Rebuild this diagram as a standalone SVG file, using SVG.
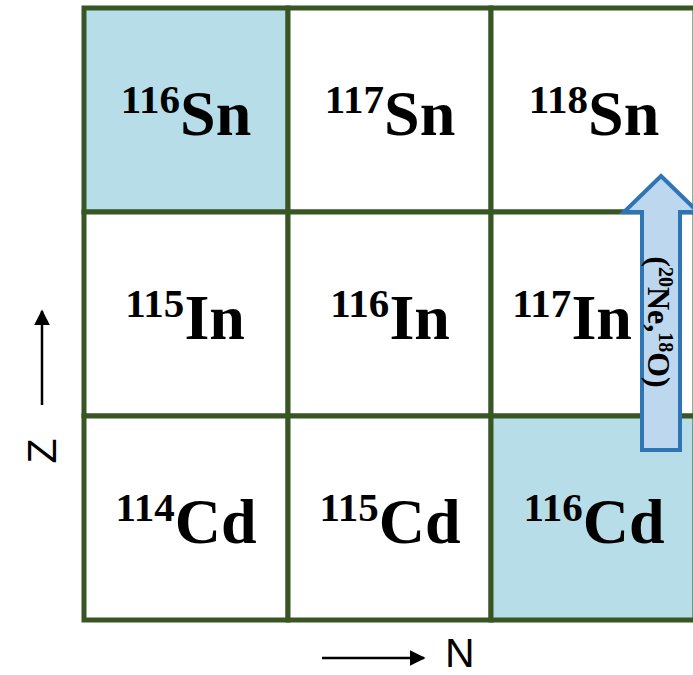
<svg xmlns="http://www.w3.org/2000/svg" width="693" height="675" viewBox="0 0 693 675">
<style>
.cell{stroke:#375623;stroke-width:5;fill:#ffffff}
.hl{fill:#b7dee8}
.nuc{font-family:"Liberation Serif","Times New Roman",serif;font-weight:700;font-size:64px;fill:#000;text-anchor:middle}
.sup{font-family:"Liberation Serif","Times New Roman",serif;font-weight:700;font-size:41px}
.ax{font-family:"Liberation Sans",Arial,sans-serif;font-size:41px;fill:#000}
.rx{font-family:"Liberation Serif","Times New Roman",serif;font-weight:700;font-size:32px;fill:#000;text-anchor:middle}
.rsup{font-family:"Liberation Serif","Times New Roman",serif;font-weight:700;font-size:20px}
</style>
<defs>
<marker id="ah" viewBox="0 0 10 10" refX="9" refY="5" markerWidth="16" markerHeight="16" markerUnits="userSpaceOnUse" orient="auto">
<path d="M0,0 L10,5 L0,10 Z" fill="#000"/>
</marker>
</defs>
<rect width="693" height="675" fill="#fff"/>
<g id="Sn116"><rect class="cell hl" x="84" y="8" width="204" height="204"/><text class="nuc" x="186" y="135"><tspan class="sup" dy="-22">116</tspan><tspan dy="22">Sn</tspan></text></g>
<g id="Sn117"><rect class="cell" x="288" y="8" width="203" height="204"/><text class="nuc" x="390" y="135"><tspan class="sup" dy="-22">117</tspan><tspan dy="22">Sn</tspan></text></g>
<g id="Sn118"><rect class="cell" x="491" y="8" width="204" height="204"/><text class="nuc" x="594" y="135"><tspan class="sup" dy="-22">118</tspan><tspan dy="22">Sn</tspan></text></g>
<g id="In115"><rect class="cell" x="84" y="212" width="204" height="204"/><text class="nuc" x="185" y="339"><tspan class="sup" dy="-22">115</tspan><tspan dy="22">In</tspan></text></g>
<g id="In116"><rect class="cell" x="288" y="212" width="203" height="204"/><text class="nuc" x="390" y="339"><tspan class="sup" dy="-22">116</tspan><tspan dy="22">In</tspan></text></g>
<g id="In117"><rect class="cell" x="491" y="212" width="204" height="204"/><text class="nuc" x="572" y="339"><tspan class="sup" dy="-22">117</tspan><tspan dy="22">In</tspan></text></g>
<g id="Cd114"><rect class="cell" x="84" y="416" width="204" height="204"/><text class="nuc" x="186" y="543"><tspan class="sup" dy="-22">114</tspan><tspan dy="22">Cd</tspan></text></g>
<g id="Cd115"><rect class="cell" x="288" y="416" width="203" height="204"/><text class="nuc" x="390" y="543"><tspan class="sup" dy="-22">115</tspan><tspan dy="22">Cd</tspan></text></g>
<g id="Cd116"><rect class="cell hl" x="491" y="416" width="204" height="204"/><text class="nuc" x="594" y="543"><tspan class="sup" dy="-22">116</tspan><tspan dy="22">Cd</tspan></text></g>
<g id="connectors">
<g id="reaction">
<path d="M661,176 L698,212 L680,212 L680,450 L642,450 L642,212 L624,212 Z" fill="#bdd7ee" stroke="#2e75b6" stroke-width="4" stroke-linejoin="miter"/>
<text class="rx" transform="translate(648,322) rotate(90)" x="0" y="0">(<tspan class="rsup" dy="-11">20</tspan><tspan dy="11">Ne,</tspan><tspan class="rsup" dy="-11">18</tspan><tspan dy="11">O)</tspan></text>
</g>
<line x1="42" y1="405" x2="42" y2="311" stroke="#000" stroke-width="2.5" marker-end="url(#ah)"/>
<line x1="322" y1="658" x2="424" y2="658" stroke="#000" stroke-width="2.5" marker-end="url(#ah)"/>
</g>
<text class="ax" transform="translate(56,451) rotate(-90)" text-anchor="middle">Z</text>
<text class="ax" x="445" y="667">N</text>
</svg>
